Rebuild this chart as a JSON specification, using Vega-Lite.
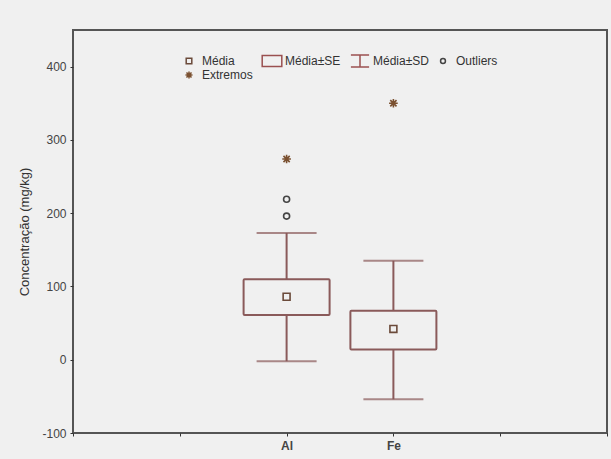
{
  "$schema": "https://vega.github.io/schema/vega-lite/v6.json",
  "autosize": "none",
  "width": 534,
  "height": 403,
  "padding": {"left": 73, "top": 30, "right": 4, "bottom": 26},
  "background": "#f0f0f0",
  "config": {
    "view": {"stroke": "#555555", "strokeWidth": 2, "fill": "#f0f0f0"},
    "font": "Liberation Sans"
  },
  "datasets": {
    "summary": [
      {"el": "Al", "seLo": 61, "seHi": 110, "sdLo": -2, "sdHi": 173},
      {"el": "Fe", "seLo": 14, "seHi": 67, "sdLo": -54, "sdHi": 135}
    ],
    "points": [
      {"el": "Al", "v": 86, "type": "Média"},
      {"el": "Fe", "v": 42, "type": "Média"},
      {"el": "Al", "v": 196, "type": "Outliers"},
      {"el": "Al", "v": 219, "type": "Outliers"},
      {"el": "Al", "v": 274, "type": "Extremos"},
      {"el": "Fe", "v": 350, "type": "Extremos"}
    ]
  },
  "encoding": {
    "x": {
      "field": "el",
      "type": "nominal",
      "scale": {"type": "point", "domain": [" ", "  ", "Al", "Fe", "   ", "    "], "padding": 0},
      "axis": {"title": null, "labelAngle": 0, "labelFontSize": 12, "labelFontWeight": "bold", "labelColor": "#444", "tickSize": 3, "tickColor": "#333", "domain": false, "labelPadding": 4}
    }
  },
  "layer": [
    {
      "data": {"name": "summary"},
      "mark": {"type": "rule", "color": "#8a5a5a", "strokeWidth": 2},
      "encoding": {
        "y": {
          "field": "sdLo", "type": "quantitative",
          "scale": {"domain": [-100, 450], "nice": false, "zero": false},
          "axis": {"title": "Concentração (mg/kg)", "values": [-100, 0, 100, 200, 300, 400], "labelExpr": "toString(datum.value)", "grid": false, "domain": false, "tickSize": 3, "tickColor": "#333", "labelFontSize": 12, "labelColor": "#444", "titleFontSize": 13, "titleFontWeight": "normal", "titleColor": "#333", "titlePadding": 10, "labelPadding": 4}
        },
        "y2": {"field": "sdHi"}
      }
    },
    {
      "data": {"name": "summary"},
      "mark": {"type": "tick", "color": "#8a5a5a", "size": 60, "thickness": 2},
      "encoding": {"y": {"field": "sdLo", "type": "quantitative"}}
    },
    {
      "data": {"name": "summary"},
      "mark": {"type": "tick", "color": "#8a5a5a", "size": 60, "thickness": 2},
      "encoding": {"y": {"field": "sdHi", "type": "quantitative"}}
    },
    {
      "data": {"name": "summary"},
      "mark": {"type": "bar", "width": 86, "fill": "#f0f0f0", "stroke": "#8a5a5a", "strokeWidth": 2, "cornerRadius": 1},
      "encoding": {
        "y": {"field": "seLo", "type": "quantitative"},
        "y2": {"field": "seHi"}
      }
    },
    {
      "data": {"name": "points"},
      "mark": {"type": "point", "filled": false, "strokeWidth": 1.6, "size": 300, "opacity": 1},
      "encoding": {
        "y": {"field": "v", "type": "quantitative"},
        "shape": {
          "field": "type", "type": "nominal",
          "scale": {
            "domain": ["Média", "Média±SE", "Média±SD", "Outliers", "Extremos"],
            "range": [
              "M-0.4,-0.4H0.4V0.4H-0.4Z",
              "M-1.4,-0.8H1.4V0.8H-1.4Z",
              "M-1.3,-0.85H1.3M0,-0.85V0.85M-1.3,0.85H1.3",
              "M-0.35,0A0.35,0.35 0 1,0 0.35,0A0.35,0.35 0 1,0 -0.35,0Z",
              "M-0.5,0H0.5M0,-0.5V0.5M-0.36,-0.36L0.36,0.36M-0.36,0.36L0.36,-0.36"
            ]
          },
          "legend": {
            "title": null, "orient": "none", "legendX": 108, "legendY": 23,
            "direction": "horizontal", "columns": 4, "gridAlign": "none",
            "symbolSize": 196, "symbolStrokeWidth": 1.5, "labelFontSize": 12, "labelColor": "#333",
            "labelOffset": 5, "columnPadding": 6, "rowPadding": -3
          }
        },
        "color": {
          "field": "type", "type": "nominal",
          "scale": {
            "domain": ["Média", "Média±SE", "Média±SD", "Outliers", "Extremos"],
            "range": ["#6b4a3a", "#9a5050", "#9a5050", "#444444", "#7a5030"]
          },
          "legend": {
            "title": null, "orient": "none", "legendX": 108, "legendY": 23,
            "direction": "horizontal", "columns": 4, "gridAlign": "none",
            "symbolSize": 196, "symbolStrokeWidth": 1.5, "labelFontSize": 12, "labelColor": "#333",
            "labelOffset": 5, "columnPadding": 6, "rowPadding": -3
          }
        }
      }
    }
  ]
}
